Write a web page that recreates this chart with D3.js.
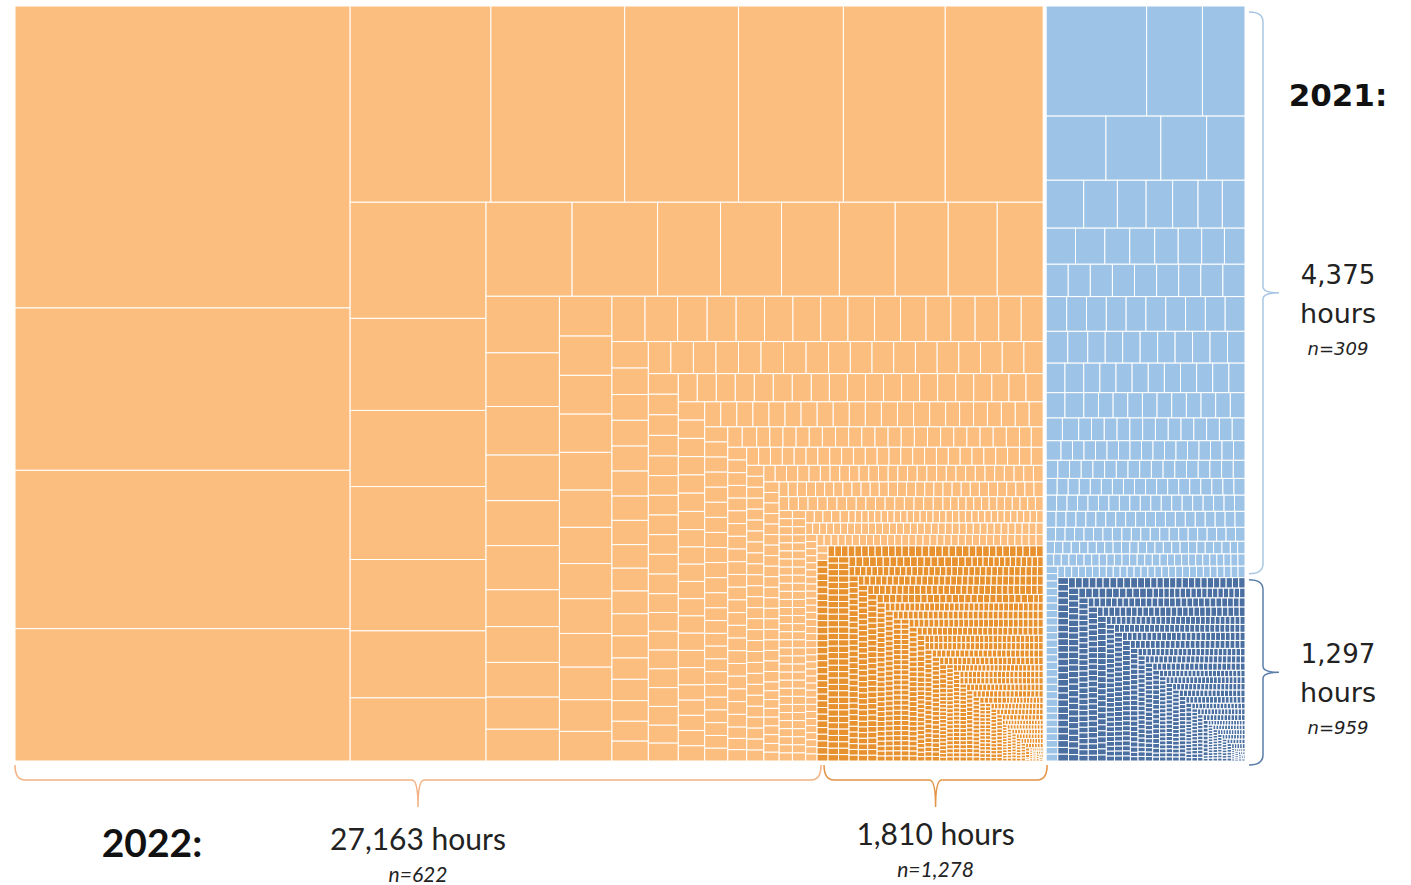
<!DOCTYPE html>
<html>
<head>
<meta charset="utf-8">
<script src="https://cdn.jsdelivr.net/npm/d3@7"></script>
<style>
  body { margin: 0; background: #fff; }
</style>
</head>
<body>
<div id="chart"></div>
<script>
const years = ["2022", "2021"];

const light2022 = [3777, 2031, 1981, 1655, 1031, 980, 834, 768, 746, 717,
  589, 467, 386, 370, 362, 340, 320, 302, 300, 221, 214, 203, 196, 186, 172, 161,
  155, 147, 133, 125, 123, 121, 101, 98, 95, 88, 87,
  78, 77, 76, 75, 74, 73, 71, 69, 68, 66, 64, 62, 58,
  56, 55, 50, 49, 48, 48, 47, 46, 45, 44, 43, 42, 41, 40, 38,
  37, 36, 36, 35, 35, 34, 34, 33, 33, 32, 31, 31, 30, 30, 29, 29, 28];
const light2022TailValues = [27, 26, 23, 22, 21, 20, 19, 18, 17, 15, 13, 11, 10, 9, 8, 7, 6, 5, 4, 3];
const light2022TailCounts = [10, 9, 5, 7, 7, 9, 10, 10, 9, 20, 19, 14, 20, 24, 28, 32, 42, 55, 80, 130];
const dark2022Values = [2.75, 2.5, 2, 1.5, 1.25, 1, 0.75, 0.5, 0.25];
const dark2022Counts = [62, 82, 226, 270, 170, 220, 110, 110, 28];

const light2021 = [418, 232, 177, 145, 133, 111, 93, 68, 61, 52, 48, 46, 44, 41,
  40, 40, 34, 34, 32, 32, 31, 28, 24];
const light2021TailValues = [27, 26, 21, 18, 14, 11, 8.5, 8, 7, 6.4, 6, 5, 4, 3.5, 3.25, 3];
const light2021TailCounts = [10, 10, 11, 12, 13, 14, 16, 17, 18, 19, 20, 21, 22, 18, 30, 35];
const dark2021Values = [2.75, 2.5, 2, 1.5, 1.25, 1, 0.75, 0.5, 0.25];
const dark2021Counts = [38, 54, 150, 200, 130, 170, 90, 102, 25];

const lightHours = ["27,163 hours", "4,375"];
const lightN = ["n=622", "n=309"];
const darkHours = ["1,810 hours", "1,297"];
const darkN = ["n=1,278", "n=959"];

const colors = {
  "2022": {light: "#FBBE7E", dark: "#E8912F"},
  "2021": {light: "#9DC3E6", dark: "#4A6FA0"}
};
const braceColors = {
  "2022": {light: "#F4B183", dark: "#E39446"},
  "2021": {light: "#A9C6E2", dark: "#5C7FAA"}
};

function runs(values, counts){
    const out = [];
    values.forEach((v, i) => {
        for (let k = 0; k < counts[i]; k++) out.push(v);
    });
    return out;
}

function leaves(kind, list){
    return list.map(v => ({kind: kind, value: v}));
}

const tree = {children: [
    {name: "2022", children: [
        ...leaves("light", light2022.concat(runs(light2022TailValues, light2022TailCounts))),
        ...leaves("dark", runs(dark2022Values, dark2022Counts))]},
    {name: "2021", children: [
        ...leaves("light", light2021.concat(runs(light2021TailValues, light2021TailCounts))),
        ...leaves("dark", runs(dark2021Values, dark2021Counts))]}
]};

const width = 1411;
const height = 885;
const margin = {top: 6, left: 15};
const innerW = 1230;
const innerH = 755;

const svg = d3.select("#chart").append("svg")
    .attr("width", width)
    .attr("height", height);

const root = d3.hierarchy(tree)
    .sum(d => d.value || 0)
    .sort((a, b) => b.value - a.value);

d3.treemap()
    .size([innerW, innerH])
    .tile(d3.treemapSquarify)
    .paddingInner(d => d.depth === 0 ? 3 : 0)(root);

const map = svg.append("g")
    .attr("transform", "translate(" + margin.left + "," + margin.top + ")");

map.selectAll("rect")
    .data(root.leaves())
    .join("rect")
    .attr("x", d => d.x0)
    .attr("y", d => d.y0)
    .attr("width", d => Math.max(0, d.x1 - d.x0))
    .attr("height", d => Math.max(0, d.y1 - d.y0))
    .attr("fill", d => colors[d.parent.data.name][d.data.kind])
    .attr("stroke", "#fff")
    .attr("stroke-width", 1);

const g22 = root.children.find(d => d.data.name === years[0]);
const g21 = root.children.find(d => d.data.name === years[1]);
const dark22 = g22.leaves().filter(d => d.data.kind === "dark");
const dark21 = g21.leaves().filter(d => d.data.kind === "dark");
const darkX0 = margin.left + d3.min(dark22, d => d.x0);
const darkY0 = margin.top + d3.min(dark21, d => d.y0);

// horizontal brace under the treemap, tip pointing down
function braceDown(x0, x1, top){
    const bar = top + 15, tip = top + 42, xm = (x0 + x1) / 2;
    return "M" + x0 + "," + top + " Q" + x0 + "," + bar + " " + (x0 + 10) + "," + bar +
        " H" + (xm - 6) + " Q" + xm + "," + bar + " " + xm + "," + tip +
        " Q" + xm + "," + bar + " " + (xm + 6) + "," + bar +
        " H" + (x1 - 10) + " Q" + x1 + "," + bar + " " + x1 + "," + top;
}

// vertical brace right of the treemap, tip pointing right
function braceRight(y0, y1, left){
    const bar = left + 14, tip = left + 30, ym = (y0 + y1) / 2;
    return "M" + left + "," + y0 + " Q" + bar + "," + y0 + " " + bar + "," + (y0 + 10) +
        " V" + (ym - 6) + " Q" + bar + "," + ym + " " + tip + "," + ym +
        " Q" + bar + "," + ym + " " + bar + "," + (ym + 6) +
        " V" + (y1 - 10) + " Q" + bar + "," + y1 + " " + left + "," + y1;
}

const braceTop = margin.top + innerH + 4;
const bottomBraces = [
    {x0: margin.left, x1: darkX0 + 4, color: braceColors["2022"].light, hours: lightHours[0], n: lightN[0]},
    {x0: darkX0 + 7, x1: margin.left + g22.x1 + 4, color: braceColors["2022"].dark, hours: darkHours[0], n: darkN[0]}
];
const braceLeft = margin.left + innerW + 4;
const rightBraces = [
    {y0: margin.top + 6, y1: darkY0 - 4, color: braceColors["2021"].light, hours: lightHours[1], n: lightN[1]},
    {y0: darkY0 + 2, y1: margin.top + innerH + 4, color: braceColors["2021"].dark, hours: darkHours[1], n: darkN[1]}
];

svg.selectAll(".brace-b")
    .data(bottomBraces)
    .join("path")
    .attr("class", "brace-b")
    .attr("d", d => braceDown(d.x0, d.x1, braceTop))
    .attr("fill", "none")
    .attr("stroke", d => d.color)
    .attr("stroke-width", 1.5);

svg.selectAll(".brace-r")
    .data(rightBraces)
    .join("path")
    .attr("class", "brace-r")
    .attr("d", d => braceRight(d.y0, d.y1, braceLeft))
    .attr("fill", "none")
    .attr("stroke", d => d.color)
    .attr("stroke-width", 1.5);

const bottomFont = "Lato, 'Open Sans', sans-serif";
const rightFont = "'DejaVu Sans', Verdana, sans-serif";

svg.append("text")
    .attr("x", 152).attr("y", 857)
    .attr("text-anchor", "middle")
    .attr("font-family", bottomFont)
    .attr("font-weight", "bold")
    .attr("font-size", 39)
    .attr("fill", "#111")
    .text(years[0] + ":");

bottomBraces.forEach((b, i) => {
    const cx = (b.x0 + b.x1) / 2;
    svg.append("text")
        .attr("x", cx).attr("y", i === 0 ? 850 : 845)
        .attr("text-anchor", "middle")
        .attr("font-family", bottomFont)
        .attr("font-size", 30)
        .attr("fill", "#222")
        .text(b.hours);
    svg.append("text")
        .attr("x", cx).attr("y", i === 0 ? 882 : 877)
        .attr("text-anchor", "middle")
        .attr("font-family", bottomFont)
        .attr("font-style", "italic")
        .attr("font-size", 21)
        .attr("fill", "#222")
        .text(b.n);
});

svg.append("text")
    .attr("x", 1338).attr("y", 106)
    .attr("text-anchor", "middle")
    .attr("font-family", rightFont)
    .attr("font-weight", "bold")
    .attr("font-size", 31)
    .attr("fill", "#111")
    .text(years[1] + ":");

rightBraces.forEach(b => {
    const ym = (b.y0 + b.y1) / 2;
    svg.append("text")
        .attr("x", 1338).attr("y", ym - 9)
        .attr("text-anchor", "middle")
        .attr("font-family", rightFont)
        .attr("font-size", 26)
        .attr("fill", "#222")
        .text(b.hours);
    svg.append("text")
        .attr("x", 1338).attr("y", ym + 30)
        .attr("text-anchor", "middle")
        .attr("font-family", rightFont)
        .attr("font-size", 27)
        .attr("fill", "#222")
        .text("hours");
    svg.append("text")
        .attr("x", 1338).attr("y", ym + 62)
        .attr("text-anchor", "middle")
        .attr("font-family", rightFont)
        .attr("font-style", "italic")
        .attr("font-size", 18)
        .attr("fill", "#222")
        .text(b.n);
});
</script>
</body>
</html>
